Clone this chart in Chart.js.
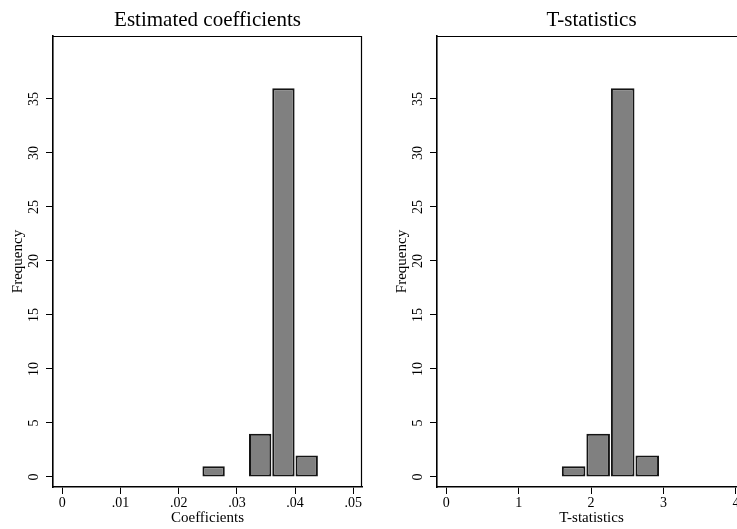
<!DOCTYPE html>
<html>
<head>
<meta charset="utf-8">
<script src="https://cdn.jsdelivr.net/npm/chart.js@4"></script>
<style>
html,body{margin:0;padding:0;background:#fff;overflow:hidden;width:737px;height:529px}
#wrap{position:relative;width:768px;height:529px}
.panel{position:absolute;top:0;width:384px;height:529px}
</style>
</head>
<body>
<div id="wrap">
  <div class="panel" style="left:0"><canvas id="c1" width="384" height="529"></canvas></div>
  <div class="panel" style="left:384px"><canvas id="c2" width="384" height="529"></canvas></div>
</div>
<script>
// ---- data ----
const coefBinStarts = [0.024, 0.028, 0.032, 0.036, 0.040];
const coefBinWidth = 0.004;
const coefCounts = [1, 0, 4, 36, 2];
const coefXTicks = [0, 0.01, 0.02, 0.03, 0.04, 0.05];
const coefXTickLabels = ['0', '.01', '.02', '.03', '.04', '.05'];

const tBinStarts = [1.589, 1.928, 2.267, 2.606];
const tBinWidth = 0.339;
const tCounts = [1, 4, 36, 2];
const tXTicks = [0, 1, 2, 3, 4];
const tXTickLabels = ['0', '1', '2', '3', '4'];

const freqTicks = [0, 5, 10, 15, 20, 25, 30, 35];

// ---- styling ----
const FONT = '"Liberation Serif", "Times New Roman", serif';

const frame = {
  id: 'frame',
  afterDraw(chart) {
    const {ctx, chartArea: a} = chart;
    ctx.save();
    ctx.strokeStyle = '#000';
    ctx.lineWidth = 1.2;
    ctx.beginPath();
    ctx.moveTo(a.left, a.top + 0.5);
    ctx.lineTo(a.right - 0.5, a.top + 0.5);
    ctx.lineTo(a.right - 0.5, a.bottom);
    ctx.stroke();
    ctx.restore();
  }
};

function makeHist(id, title, xTitle, starts, width, counts, xTicks, xLabels, xMin, xMax) {
  const data = starts.map((s, i) => ({x: s + width / 2, y: counts[i]}));
  new Chart(document.getElementById(id), {
    type: 'bar',
    data: {
      datasets: [{
        data: data,
        backgroundColor: '#808080',
        borderColor: '#141414',
        borderWidth: 2,
        borderSkipped: false,
        barPercentage: 0.96,
        categoryPercentage: 1
      }]
    },
    options: {
      responsive: false,
      animation: false,
      devicePixelRatio: 1,
      layout: {padding: {left: 0, right: 22, top: 0, bottom: 0}},
      plugins: {
        legend: {display: false},
        tooltip: {enabled: false},
        title: {
          display: true,
          fullSize: false,
          text: title,
          color: '#000',
          font: {family: FONT, size: 21, weight: 'normal'},
          padding: {top: 8, bottom: 2.8}
        }
      },
      scales: {
        x: {
          type: 'linear',
          offset: false,
          min: xMin,
          max: xMax,
          afterBuildTicks: s => { s.ticks = xTicks.map(v => ({value: v})); },
          afterFit: s => { s.height = 42; },
          ticks: {
            color: '#000',
            font: {family: FONT, size: 14},
            padding: 1,
            autoSkip: false,
            maxRotation: 0,
            callback: v => { const i = xTicks.indexOf(v); return i >= 0 ? xLabels[i] : ''; }
          },
          grid: {display: true, drawOnChartArea: false, drawTicks: true, tickLength: 7, color: '#000', tickColor: '#000', tickWidth: 1, offset: false},
          border: {display: true, color: '#000', width: 1.6},
          title: {display: true, text: xTitle, color: '#000', font: {family: FONT, size: 15}, padding: {top: 0, bottom: 2}}
        },
        y: {
          type: 'linear',
          min: -0.926,
          max: 40.83,
          afterBuildTicks: s => { s.ticks = freqTicks.map(v => ({value: v})); },
          afterFit: s => { s.width = 53; },
          ticks: {
            color: '#000',
            font: {family: FONT, size: 14},
            padding: 5,
            minRotation: 90,
            maxRotation: 90,
            crossAlign: 'center',
            autoSkip: false,
            callback: v => String(v)
          },
          grid: {display: true, drawOnChartArea: false, drawTicks: true, tickLength: 7, color: '#000', tickColor: '#000', tickWidth: 1},
          border: {display: true, color: '#000', width: 1.6},
          title: {display: true, text: 'Frequency', color: '#000', font: {family: FONT, size: 15}, padding: {top: 9, bottom: 0}}
        }
      }
    },
    plugins: [frame]
  });
}

makeHist('c1', 'Estimated coefficients', 'Coefficients', coefBinStarts, coefBinWidth, coefCounts, coefXTicks, coefXTickLabels, -0.0016, 0.0515);
makeHist('c2', 'T-statistics', 'T-statistics', tBinStarts, tBinWidth, tCounts, tXTicks, tXTickLabels, -0.128, 4.139);
</script>
</body>
</html>
